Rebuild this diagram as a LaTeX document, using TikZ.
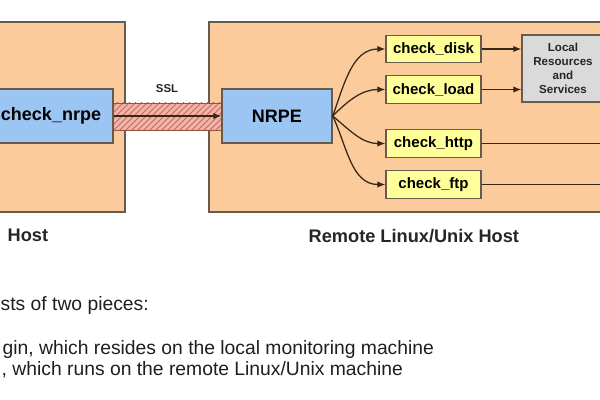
\documentclass[tikz,border=0pt]{standalone}
\usepackage{fontspec}
\setmainfont{Liberation Sans}
\usetikzlibrary{patterns,arrows.meta}

\definecolor{hostfill}{RGB}{251,203,155}
\definecolor{hostline}{RGB}{105,90,78}
\definecolor{plugblue}{RGB}{155,197,242}
\definecolor{checkyellow}{RGB}{255,255,153}
\definecolor{resgray}{RGB}{218,218,218}
\definecolor{sslfill}{RGB}{240,180,168}
\definecolor{sslhatch}{RGB}{214,100,90}
\definecolor{sslline}{RGB}{150,82,62}
\definecolor{wire}{RGB}{52,38,24}

\begin{document}
\begin{tikzpicture}[x=0.5pt,y=-0.5pt,line width=.25mm,>={Latex[length=4pt,width=3.2pt]},
    host/.style={draw=hostline,fill=hostfill,inner sep=0pt},
    plugin/.style={draw=hostline,fill=plugblue,inner sep=0pt,minimum width=55pt,minimum height=27pt,font=\fontsize{9}{10}\bfseries},
    checkbox/.style={draw=hostline,fill=checkyellow,inner sep=0pt,minimum width=47.5pt,minimum height=13.75pt,font=\fontsize{7.5}{9}\bfseries},
    hostlabel/.style={anchor=base west,inner sep=0pt,text=black!85,font=\fontsize{9.1}{11}\bfseries},
    bodytext/.style={anchor=base west,inner sep=0pt,text=black!88,font=\fontsize{9.65}{11}\selectfont},
    wired/.style={draw=wire,line width=.22mm}]
        \clip (0,0) rectangle (600,400);
        \fill[white] (0,0) rectangle (600,400);

        % the two hosts
        \node[host,minimum width=77.5pt,minimum height=95pt] (local) at (47.5,117) {};
        \node[host,minimum width=215.5pt,minimum height=95pt] (remote) at (424.5,117) {};

        % ssl tunnel
        \draw[sslline,line width=.15mm,preaction={fill=sslfill},pattern=north east lines,pattern color=sslhatch] (113,103) rectangle (222,130);
        \node[font=\fontsize{5.7}{7}\bfseries,text=black!85] (ssl) at (167,89) {SSL};

        \node[plugin,minimum width=62pt] (check_nrpe) at (51,116) {check\_nrpe};
        \node[plugin] (nrpe) at (277,116) {NRPE};
        \draw[wired,->] (check_nrpe) -- (nrpe);

        % plugins on the remote host
        \node[checkbox] (disk) at (433.5,49) {check\_disk};
        \node[checkbox] (load) at (433.5,89.5) {check\_load};
        \node[checkbox] (http) at (433.5,143.5) {check\_http};
        \node[checkbox] (ftp) at (433.5,184.5) {check\_ftp};

        \node[draw=hostline,fill=resgray,inner sep=0pt,minimum width=41pt,minimum height=33.5pt,align=center,
              font=\fontsize{5.8}{7}\bfseries,text=black!85] (res) at (563,68.5) {Local\\Resources\\and\\Services};

        \draw[wired,->] (nrpe.east) to[out=70,in=180] (disk.west);
        \draw[wired,->] (nrpe.east) to[out=45,in=180] (load.west);
        \draw[wired,->] (nrpe.east) to[out=-40,in=180] (http.west);
        \draw[wired,->] (nrpe.east) to[out=-65,in=180] (ftp.west);

        \draw[wired,->] (disk) -- (disk -| res.west);
        \draw[wired,->] (load) -- (load -| res.west);

        \coordinate (http_out) at (620,143.5);
        \coordinate (ftp_out) at (620,184.5);
        \draw[wired] (http) -- (http_out);
        \draw[wired] (ftp) -- (ftp_out);

        % labels and text below
        \node[hostlabel] (local_label) at (7,242) {Host};
        \node[hostlabel] (remote_label) at (308,243) {Remote Linux/Unix Host};

        \node[bodytext] (line_a) at (0,311) {sts of two pieces:};
        \node[bodytext] (line_b) at (2,355) {gin, which resides on the local monitoring machine};
        \node[bodytext] (line_c) at (1,376) {, which runs on the remote Linux/Unix machine};
    \end{tikzpicture}
\end{document}
